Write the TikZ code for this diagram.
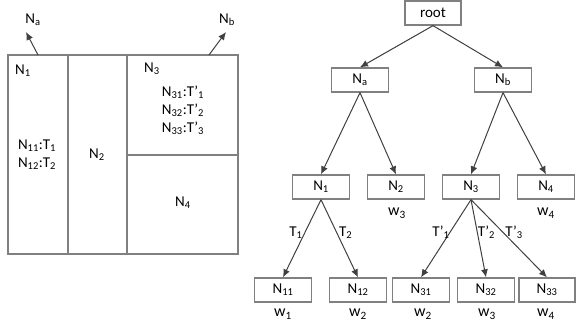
\documentclass[tikz,border=0pt]{standalone}
\usepackage{fontspec}
\setmainfont{Carlito}
\usetikzlibrary{positioning,arrows.meta}
\definecolor{boxgray}{HTML}{808080}
\definecolor{arrowgray}{HTML}{404040}
\tikzset{
  nbox/.style={draw=boxgray, line width=1.3pt, minimum width=57pt, minimum height=24pt, inner sep=0pt},
  edge/.style={-{Latex[length=8pt,width=7pt]}, draw=arrowgray, line width=1pt},
  wlabel/.style={inner sep=0pt, font=\fontsize{16}{18}\selectfont},
}
\begin{document}
\begin{tikzpicture}[x=1pt, y=-1pt, font=\fontsize{15}{17}\selectfont]
    \useasboundingbox (0,0) rectangle (576,326);

    % Partition of the space
    \draw[boxgray, line width=1.3pt] (8,55) rectangle (238,254);
    \draw[boxgray, line width=2pt] (68,55) -- (68,254);
    \draw[boxgray, line width=1.3pt] (127,55) -- (127,254);
    \draw[boxgray, line width=1.3pt] (127,155) -- (238,155);

    \node (p1) at (23,71) {N\textsubscript{1}};
    \node[align=center, inner sep=0pt] (p1t) at (37,155) {N\textsubscript{11}:T\textsubscript{1}\\[1pt]N\textsubscript{12}:T\textsubscript{2}};
    \node (p2) at (97,155) {N\textsubscript{2}};
    \node (p3) at (152,69) {N\textsubscript{3}};
    \node[align=center, inner sep=0pt] (p3t) at (183,110) {N\textsubscript{31}:T’\textsubscript{1}\\[1pt]N\textsubscript{32}:T’\textsubscript{2}\\[1pt]N\textsubscript{33}:T’\textsubscript{3}};
    \node (p4) at (183,203) {N\textsubscript{4}};

    % Pointers to the tree nodes
    \node (la) at (33,20) {N\textsubscript{a}};
    \node (lb) at (227,20) {N\textsubscript{b}};
    \coordinate (sa) at (38,55);
    \coordinate (ta) at (26,32);
    \coordinate (sb) at (209,55);
    \coordinate (tb) at (226,32);
    \draw[edge] (sa) -- (ta);
    \draw[edge] (sb) -- (tb);

    % Tree
    \node[nbox, minimum width=56pt] (root) at (433,13) {root};
    \node[nbox] (na) at (360,80) {N\textsubscript{a}};
    \node[nbox] (nb) at (503,80) {N\textsubscript{b}};
    \node[nbox] (n1) at (321,187) {N\textsubscript{1}};
    \node[nbox] (n2) at (396,187) {N\textsubscript{2}};
    \node[nbox] (n3) at (471,187) {N\textsubscript{3}};
    \node[nbox] (n4) at (546,187) {N\textsubscript{4}};
    \node[nbox] (n11) at (283,290) {N\textsubscript{11}};
    \node[nbox] (n12) at (358,290) {N\textsubscript{12}};
    \node[nbox] (n31) at (421,290) {N\textsubscript{31}};
    \node[nbox] (n32) at (486,290) {N\textsubscript{32}};
    \node[nbox, minimum width=56pt] (n33) at (547,290) {N\textsubscript{33}};

    \draw[edge] (root.south) -- (na.north);
    \draw[edge] (root.south) -- (nb.north);
    \draw[edge] (na.south) -- (n1.north);
    \draw[edge] (na.south) -- (n2.north);
    \draw[edge] (nb.south) -- (n3.north);
    \draw[edge] (nb.south) -- (n4.north);
    \draw[edge] (n1.south) -- node[pos=0.42, left, inner sep=2pt] {T\textsubscript{1}} (n11.north);
    \draw[edge] (n1.south) -- node[pos=0.42, right, inner sep=2pt] {T\textsubscript{2}} (n12.north);
    \draw[edge] (n3.south) -- node[pos=0.42, left, inner sep=0pt] {T’\textsubscript{1}} (n31.north);
    \draw[edge] (n3.south) -- node[pos=0.42, right, inner sep=0pt] {T’\textsubscript{2}} (n32.north);
    \draw[edge] (n3.south) -- node[pos=0.42, right, inner sep=2pt] {T’\textsubscript{3}} (n33.north);

    % Weights
    \node[wlabel] (w3a) at (397,213) {w\textsubscript{3}};
    \node[wlabel] (w4a) at (546,213) {w\textsubscript{4}};
    \node[wlabel] (w1) at (283,314) {w\textsubscript{1}};
    \node[wlabel] (w2a) at (358,314) {w\textsubscript{2}};
    \node[wlabel] (w2b) at (423,314) {w\textsubscript{2}};
    \node[wlabel] (w3b) at (487,314) {w\textsubscript{3}};
    \node[wlabel] (w4b) at (546,314) {w\textsubscript{4}};
\end{tikzpicture}
\end{document}
